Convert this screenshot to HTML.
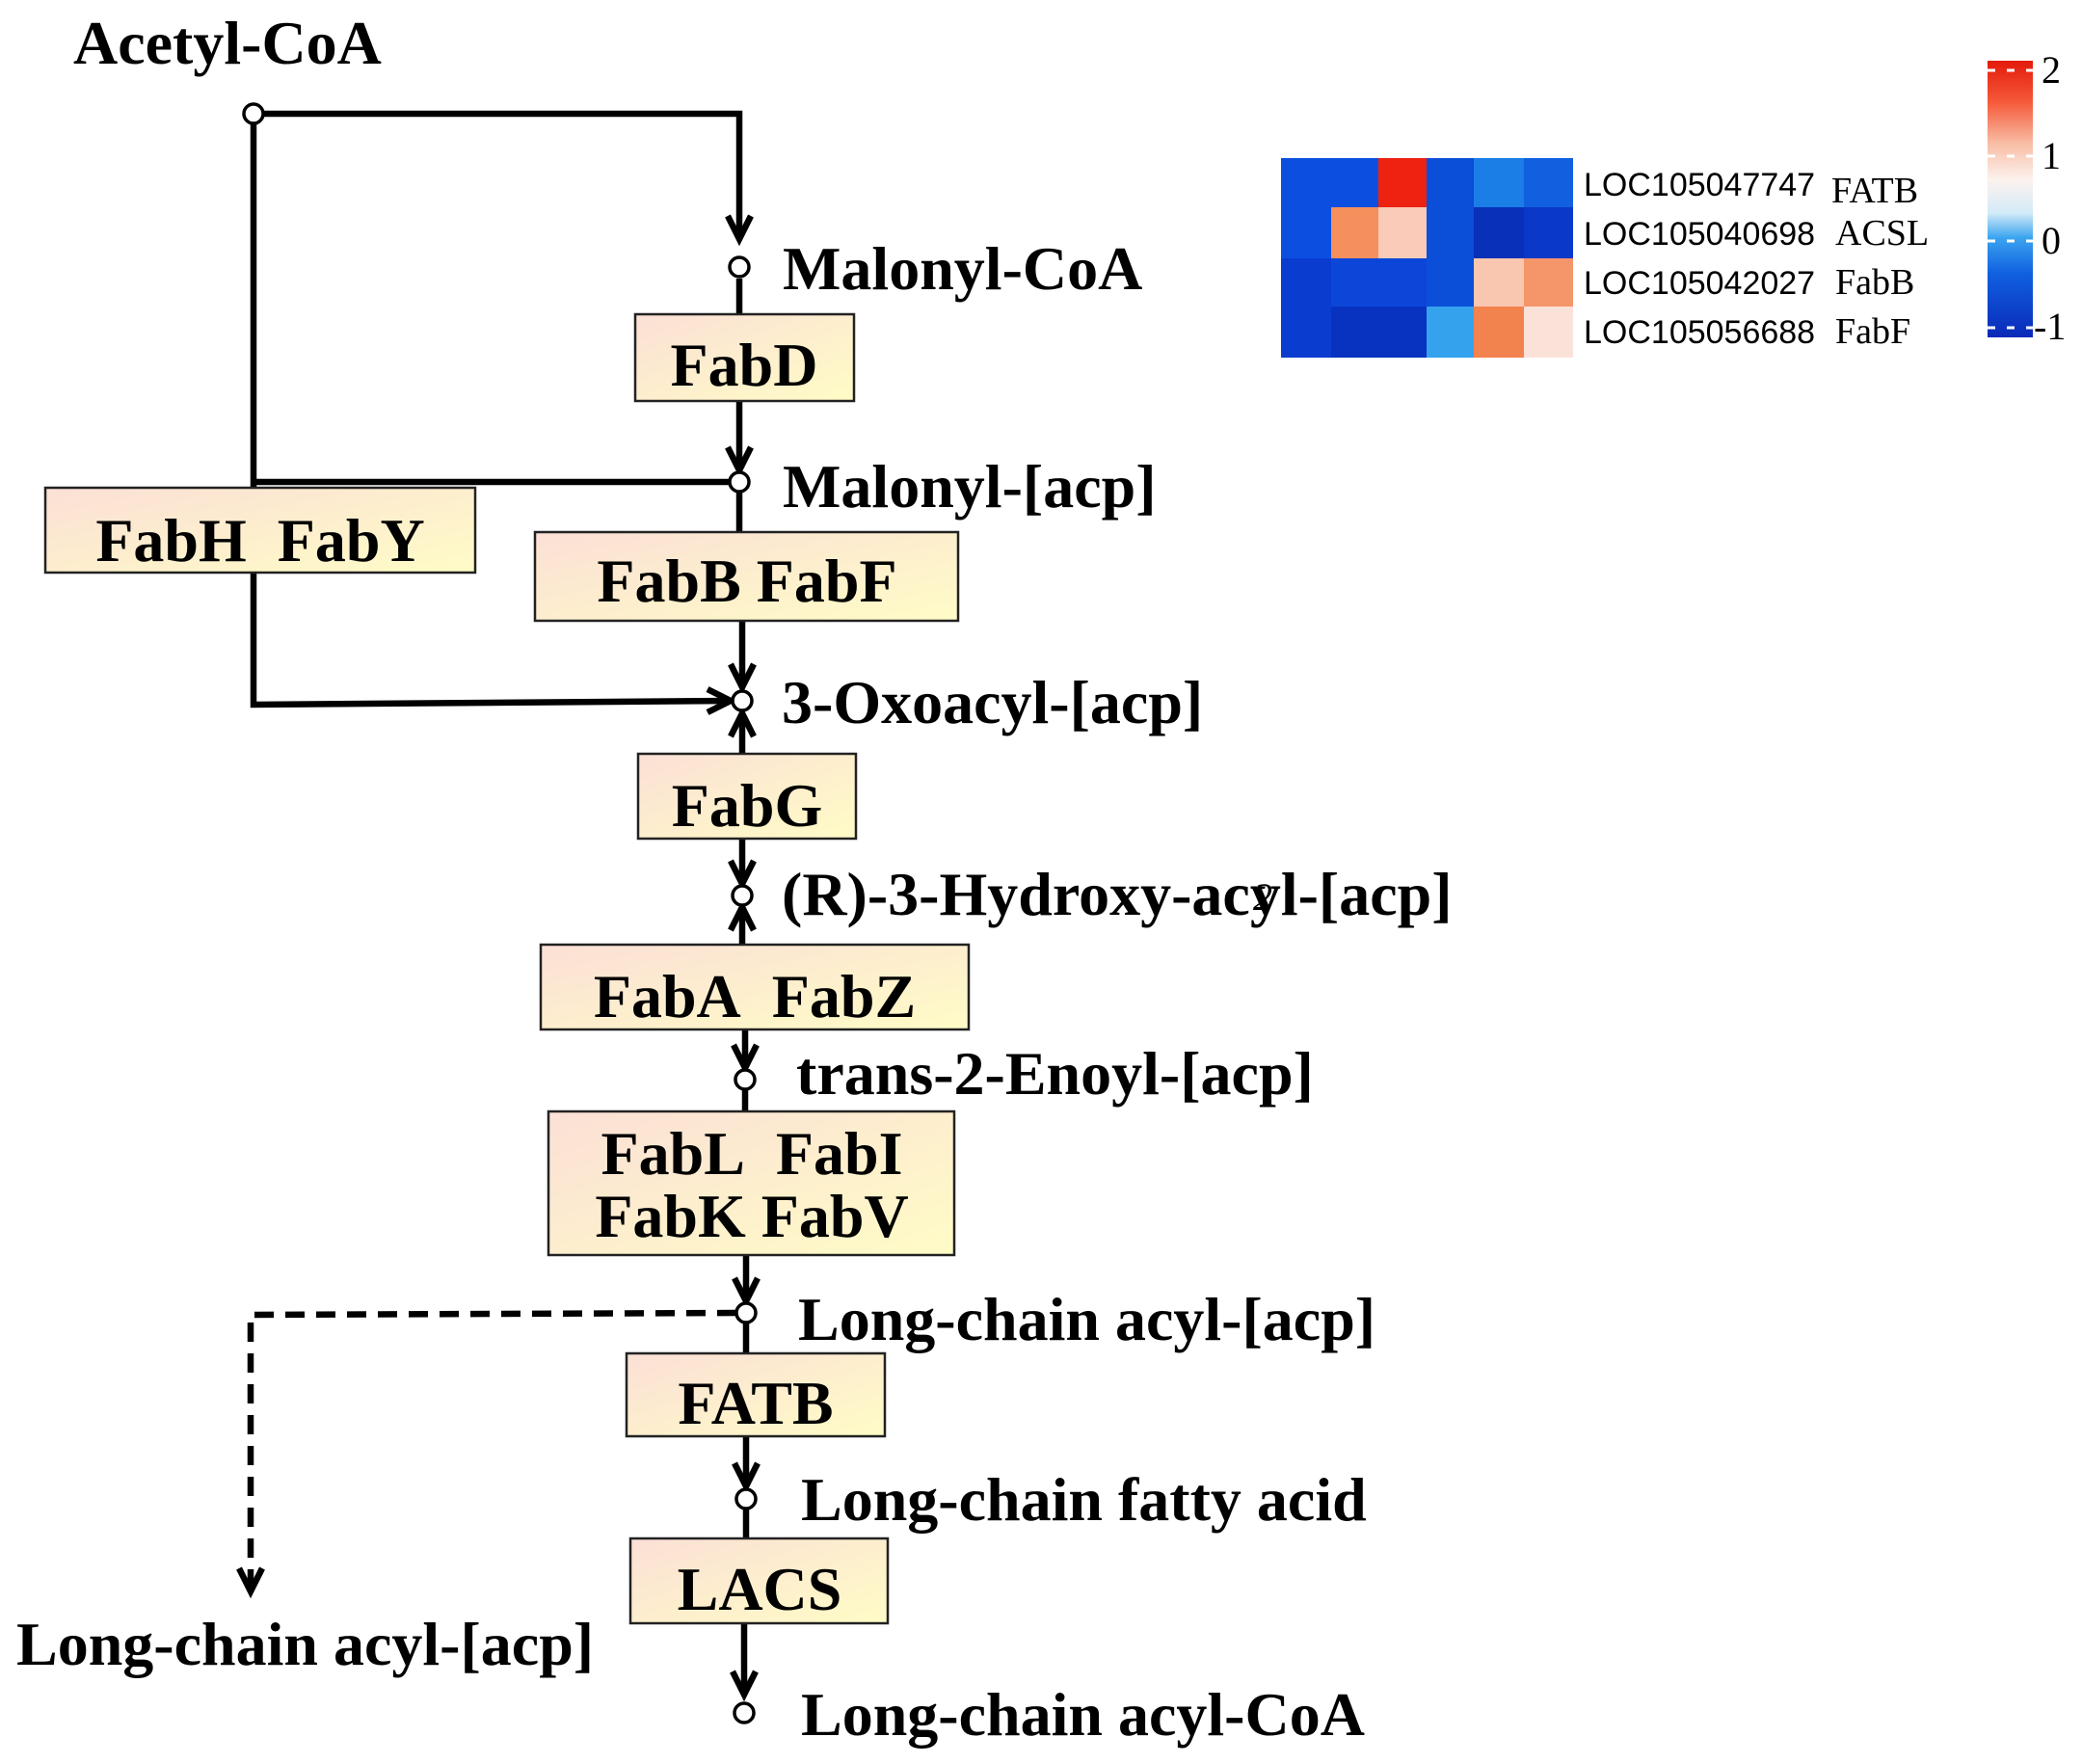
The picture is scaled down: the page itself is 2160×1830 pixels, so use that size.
<!DOCTYPE html>
<html><head><meta charset="utf-8"><style>
html,body{margin:0;padding:0;background:#fff;}
svg{display:block;}
.t{font-family:"Liberation Serif",serif;font-weight:bold;font-size:64px;fill:#000;}
.b{font-family:"Liberation Serif",serif;font-weight:bold;font-size:64px;fill:#000;text-anchor:middle;}
.loc{font-family:"Liberation Sans",sans-serif;font-size:34px;fill:#000;}
.g{font-family:"Liberation Serif",serif;font-size:38px;fill:#000;}
</style></head><body>
<svg width="2160" height="1830" viewBox="0 0 2160 1830" xmlns="http://www.w3.org/2000/svg">
<defs>
<linearGradient id="bx" x1="0" y1="0" x2="1" y2="1">
<stop offset="0" stop-color="#fbe0d6"/><stop offset="1" stop-color="#fffcc6"/>
</linearGradient>
<linearGradient id="cb" x1="0" y1="0" x2="0" y2="1">
<stop offset="0" stop-color="#e41a0c"/><stop offset="0.15" stop-color="#f55a3a"/>
<stop offset="0.3" stop-color="#f8bea6"/><stop offset="0.43" stop-color="#fcf2ee"/>
<stop offset="0.55" stop-color="#d4ebf8"/><stop offset="0.64" stop-color="#3aa4f0"/>
<stop offset="0.77" stop-color="#1060e0"/><stop offset="1" stop-color="#0a2ab8"/>
</linearGradient>
</defs>
<g stroke="#000" stroke-width="6.5" fill="none" stroke-linecap="butt">
<polyline points="263,118 767,118 767,248"/>
<polyline points="755,224 767,248 779,224"/>
<line x1="263" y1="118" x2="263" y2="506"/>
<line x1="263" y1="500" x2="767" y2="500"/>
<line x1="767" y1="289" x2="767" y2="326"/>
<line x1="767" y1="416" x2="767" y2="488"/>
<polyline points="755,464 767,488 779,464"/>
<line x1="767" y1="510" x2="767" y2="552"/>
<line x1="770" y1="644" x2="770" y2="713"/>
<polyline points="758,689 770,713 782,689"/>
<polyline points="263,594 263,731 758,727"/>
<polyline points="734,715 758,727 734,739"/>
<line x1="770" y1="782" x2="770" y2="740"/>
<polyline points="758,764 770,740 782,764"/>
<line x1="770" y1="870" x2="770" y2="917"/>
<polyline points="758,893 770,917 782,893"/>
<line x1="770" y1="980" x2="770" y2="941"/>
<polyline points="758,965 770,941 782,965"/>
<line x1="773" y1="1068" x2="773" y2="1108"/>
<polyline points="761,1084 773,1108 785,1084"/>
<line x1="773" y1="1130" x2="773" y2="1153"/>
<line x1="774" y1="1302" x2="774" y2="1350"/>
<polyline points="762,1326 774,1350 786,1326"/>
<line x1="774" y1="1373" x2="774" y2="1404"/>
<polyline points="764,1362 260,1364 260,1650" stroke-dasharray="20,12"/>
<polyline points="248,1627 260,1651 272,1627"/>
<line x1="774" y1="1490" x2="774" y2="1542"/>
<polyline points="762,1518 774,1542 786,1518"/>
<line x1="774" y1="1566" x2="774" y2="1596"/>
<line x1="772" y1="1684" x2="772" y2="1758"/>
<polyline points="760,1734 772,1758 784,1734"/>
</g>
<g fill="#fff" stroke="#000" stroke-width="3.5">
<ellipse cx="263" cy="118" rx="10" ry="10"/>
<ellipse cx="767" cy="277" rx="10" ry="10"/>
<ellipse cx="767" cy="500" rx="10" ry="10"/>
<ellipse cx="770" cy="727" rx="10" ry="10"/>
<ellipse cx="770" cy="929" rx="10" ry="10"/>
<ellipse cx="773" cy="1120" rx="10" ry="10"/>
<ellipse cx="774" cy="1362" rx="10" ry="10"/>
<ellipse cx="774" cy="1555" rx="10" ry="10"/>
<ellipse cx="772" cy="1777" rx="10" ry="10"/>
</g>
<g fill="url(#bx)" stroke="#222" stroke-width="2.5">
<rect x="659" y="326" width="227" height="90"/>
<rect x="47" y="506" width="446" height="88"/>
<rect x="555" y="552" width="439" height="92"/>
<rect x="662" y="782" width="226" height="88"/>
<rect x="561" y="980" width="444" height="88"/>
<rect x="569" y="1153" width="421" height="149"/>
<rect x="650" y="1404" width="268" height="86"/>
<rect x="654" y="1596" width="267" height="88"/>
</g>
<text class="b" x="772" y="400">FabD</text>
<text class="b" x="270" y="582">FabH&#160;&#160;FabY</text>
<text class="b" x="775" y="624">FabB FabF</text>
<text class="b" x="775" y="857">FabG</text>
<text class="b" x="783" y="1055">FabA&#160;&#160;FabZ</text>
<text class="b" x="780" y="1218">FabL&#160;&#160;FabI</text>
<text class="b" x="780" y="1283">FabK FabV</text>
<text class="b" x="784" y="1477">FATB</text>
<text class="b" x="788" y="1670">LACS</text>
<text class="t" x="76" y="66">Acetyl-CoA</text>
<text class="t" x="812" y="300">Malonyl-CoA</text>
<text class="t" x="812" y="526">Malonyl-[acp]</text>
<text class="t" x="811" y="750">3-Oxoacyl-[acp]</text>
<text class="t" x="811" y="949">(R)-3-Hydroxy-acyl-[acp]</text>
<text x="1300" y="944" style="font-family:'Liberation Serif',serif;font-size:40px;font-style:italic">2</text>
<text class="t" x="826" y="1135">trans-2-Enoyl-[acp]</text>
<text class="t" x="828" y="1390">Long-chain acyl-[acp]</text>
<text class="t" x="831" y="1577">Long-chain fatty acid</text>
<text class="t" x="17" y="1727">Long-chain acyl-[acp]</text>
<text class="t" x="831" y="1800">Long-chain acyl-CoA</text>
<g stroke="none">
<rect x="1329" y="164" width="52" height="51" fill="#0c4fe0"/>
<rect x="1381" y="164" width="49" height="51" fill="#0c4fe0"/>
<rect x="1430" y="164" width="50" height="51" fill="#ee2210"/>
<rect x="1480" y="164" width="49" height="51" fill="#0b4ed8"/>
<rect x="1529" y="164" width="52" height="51" fill="#1a7ee6"/>
<rect x="1581" y="164" width="51" height="51" fill="#1060e0"/>
<rect x="1329" y="215" width="52" height="53" fill="#0c4fe0"/>
<rect x="1381" y="215" width="49" height="53" fill="#f5905e"/>
<rect x="1430" y="215" width="50" height="53" fill="#f9cbb8"/>
<rect x="1480" y="215" width="49" height="53" fill="#0b4ed8"/>
<rect x="1529" y="215" width="52" height="53" fill="#0830b8"/>
<rect x="1581" y="215" width="51" height="53" fill="#0a38c8"/>
<rect x="1329" y="268" width="52" height="50" fill="#0a3cd0"/>
<rect x="1381" y="268" width="49" height="50" fill="#0c46d8"/>
<rect x="1430" y="268" width="50" height="50" fill="#0c46d8"/>
<rect x="1480" y="268" width="49" height="50" fill="#0b4ed8"/>
<rect x="1529" y="268" width="52" height="50" fill="#f9c6b0"/>
<rect x="1581" y="268" width="51" height="50" fill="#f5956a"/>
<rect x="1329" y="318" width="52" height="53" fill="#0a3cd0"/>
<rect x="1381" y="318" width="49" height="53" fill="#0832c0"/>
<rect x="1430" y="318" width="50" height="53" fill="#0832c0"/>
<rect x="1480" y="318" width="49" height="53" fill="#35a2ee"/>
<rect x="1529" y="318" width="52" height="53" fill="#f2824e"/>
<rect x="1581" y="318" width="51" height="53" fill="#fbe2d8"/>
</g>
<text class="loc" x="1643" y="203">LOC105047747</text><text class="g" x="1900" y="210">FATB</text>
<text class="loc" x="1643" y="254">LOC105040698</text><text class="g" x="1904" y="254">ACSL</text>
<text class="loc" x="1643" y="305">LOC105042027</text><text class="g" x="1904" y="305">FabB</text>
<text class="loc" x="1643" y="356">LOC105056688</text><text class="g" x="1904" y="356">FabF</text>
<rect x="2062" y="63" width="47" height="287" fill="url(#cb)"/>
<g stroke="#fff" stroke-width="3" stroke-dasharray="8,12">
<line x1="2062" y1="73" x2="2109" y2="73"/>
<line x1="2062" y1="162" x2="2109" y2="162"/>
<line x1="2062" y1="250" x2="2109" y2="250"/>
<line x1="2062" y1="340" x2="2109" y2="340"/>
</g>
<text class="g" x="2118" y="86" style="font-size:40px">2</text>
<text class="g" x="2118" y="175" style="font-size:40px">1</text>
<text class="g" x="2118" y="263" style="font-size:40px">0</text>
<text class="g" x="2110" y="352" style="font-size:40px">-1</text>
</svg>
</body></html>
